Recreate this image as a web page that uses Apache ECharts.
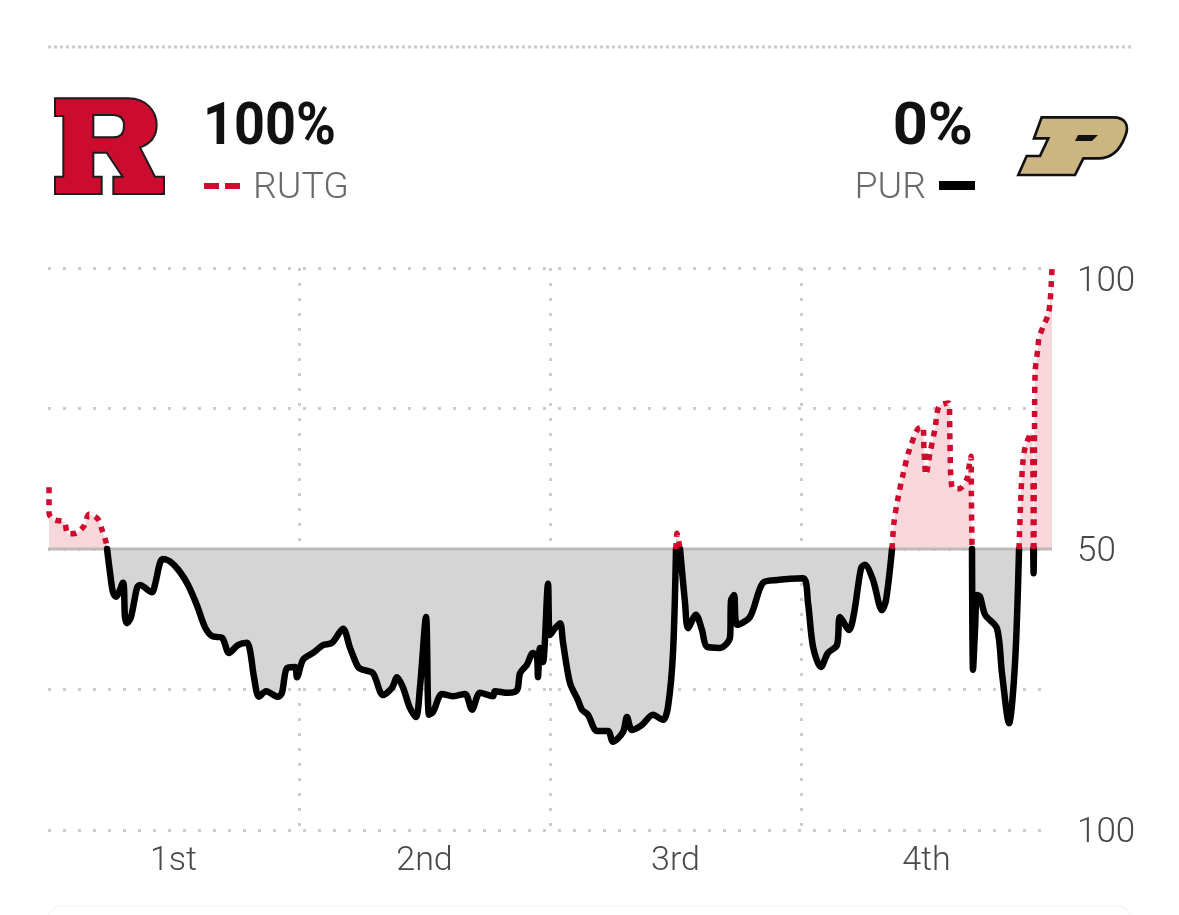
<!DOCTYPE html>
<html lang="en">
<head>
    <meta charset="UTF-8">
    <title>Win probability</title>
    <script src="https://cdn.jsdelivr.net/npm/echarts@6/dist/echarts.min.js"></script>
    <style>
        html, body { margin: 0; padding: 0; background: #fff; }
    </style>
</head>
<body>
    <div id="main" style="width:1179px;height:915px;"></div>
    <script>
    var periodLabels = ['1st', '2nd', '3rd', '4th'];
    var periodCenters = [7.5, 22.5, 37.5, 52.5];
    var yTickLabels = {0: '100', 50: '50', 100: '100'};
    var red = '#cf0a2c';
    var black = '#000000';

    // game clock in elapsed minutes
    var gameMinutes = [
        0.06, 0.06, 0.36, 0.96, 1.20, 1.67, 2.15, 2.45, 2.99, 3.23, 3.47, 3.53,
        3.71, 3.88, 4.06, 4.48, 4.60, 4.72, 4.96, 5.32, 5.50, 6.22, 6.39, 6.69,
        6.87, 7.41, 7.89, 8.37, 8.90, 9.38, 9.80, 10.40, 10.82, 11.35, 11.89, 12.07,
        12.31, 12.61, 13.03, 13.74, 13.98, 14.28, 14.76, 14.88, 15.24, 15.84, 16.43, 16.97,
        17.63, 18.05, 18.53, 18.82, 19.42, 20.02, 20.56, 20.86, 21.21, 21.63, 21.99, 22.23,
        22.59, 22.77, 23.01, 23.55, 24.20, 24.92, 25.34, 25.82, 26.59, 26.71, 27.49, 28.03,
        28.21, 28.62, 28.98, 29.22, 29.28, 29.40, 29.58, 29.88, 30.00, 30.30, 30.60, 30.78,
        31.19, 31.67, 31.91, 32.27, 32.81, 33.47, 33.76, 34.36, 34.60, 34.90, 35.50, 36.15,
        36.75, 37.05, 37.35, 37.53, 37.59, 37.65, 37.77, 38.07, 38.25, 38.72, 39.08, 39.38,
        40.16, 40.76, 40.82, 41.00, 41.18, 41.95, 42.73, 43.57, 45.12, 45.42, 45.72, 46.19,
        46.61, 47.15, 47.33, 47.87, 48.17, 48.59, 48.82, 49.30, 49.84, 50.08, 50.44, 50.56,
        50.80, 51.10, 51.45, 51.99, 52.29, 52.35, 52.47, 52.71, 53.01, 53.25, 53.84, 53.90,
        54.02, 54.44, 54.92, 55.04, 55.16, 55.18, 55.22, 55.28, 55.40, 55.52, 55.70, 56.00,
        56.71, 57.01, 57.43, 57.79, 58.03, 58.15, 58.27, 58.39, 58.68, 58.80, 58.87, 58.88,
        58.90, 58.92, 58.95, 58.99, 59.16, 59.22, 59.46, 59.76, 59.88, 59.97, 60.00
    ];
    // Rutgers win probability, 50 marks a lead change
    var rutgersWinProb = [
        61.0, 56.4, 55.2, 54.8, 52.7, 52.8, 54.1, 56.2, 55.3, 53.4, 51.2, 50,
        45.7, 42.3, 41.5, 44.0, 37.9, 36.8, 37.9, 43.1, 43.6, 42.3, 43.6, 47.5,
        48.2, 47.5, 45.9, 43.6, 40.0, 36.1, 34.5, 34.2, 31.5, 32.9, 33.3, 32.0,
        27.2, 23.7, 24.7, 23.7, 24.4, 28.8, 29.0, 27.2, 30.3, 31.5, 32.9, 33.3,
        35.8, 32.4, 29.0, 28.5, 27.9, 24.0, 25.3, 27.2, 25.4, 21.7, 20.1, 25.4,
        37.9, 20.5, 21.0, 24.2, 23.8, 24.2, 21.4, 24.4, 23.8, 24.7, 24.4, 24.9,
        27.9, 29.4, 31.5, 30.8, 27.2, 32.4, 29.9, 43.8, 34.7, 35.9, 36.8, 33.3,
        26.2, 23.1, 21.4, 20.5, 17.6, 17.6, 15.7, 17.4, 20.1, 17.8, 18.7, 20.5,
        19.6, 21.9, 31.5, 50, 52.8, 52.1, 50, 40.4, 35.9, 38.3, 35.6, 32.6,
        32.4, 34.3, 40.9, 41.8, 36.5, 37.9, 44.0, 44.5, 44.8, 40.4, 32.6, 29.0,
        31.5, 32.9, 37.9, 35.6, 38.6, 46.6, 47.2, 44.5, 39.1, 40.9, 50, 54.8,
        59.1, 63.3, 67.4, 71.4, 71.7, 67.6, 63.2, 67.1, 71.4, 75.4, 76.0, 69.4,
        61.0, 60.7, 62.5, 64.6, 66.5, 60.0, 50, 28.5, 35.6, 41.8, 41.5, 38.3,
        35.9, 27.9, 19.0, 29.7, 50, 60.0, 65.8, 68.0, 70.3, 70.6, 60.0, 50,
        45.7, 50, 67.6, 81.3, 85.8, 87.5, 89.5, 91.6, 93.8, 97.9, 100
    ];

    var rutgersPts = [];
    var purduePts = [];
    gameMinutes.forEach(function (m, i) {
        var v = rutgersWinProb[i];
        rutgersPts.push([m, v >= 50 ? v : null]);
        purduePts.push([m, v <= 50 ? v : null]);
    });

    function areaSeries(name, pts, color) {
        return {
            name: name, type: 'line', data: pts, z: 2, clip: false,
            showSymbol: false, symbol: 'none',
            smooth: 0.3,
            lineStyle: {width: 0},
            areaStyle: {color: color, opacity: 1, origin: 50}
        };
    }
    function lineSeries(name, pts, style) {
        return {
            name: name, type: 'line', data: pts, z: 4, clip: false,
            showSymbol: false, symbol: 'none',
            smooth: 0.3,
            lineStyle: style
        };
    }

    // team logos traced at 3x, placed with a 1/3 scale below
    echarts.graphic.registerShape('rutgersLogo', echarts.graphic.extendPath(
        'M165 205 L385 205 C440 205 470 245 470 285 C470 320 450 342 420 352 L465 440 L492 440 L492 492 L340 492 L340 440 L368 440 L320 368 L280 368 L280 440 L305 440 L305 492 L165 492 L165 440 L190 440 L190 258 L165 258 Z ' +
        'M280 255 L280 322 L340 322 C362 322 372 308 372 288 C372 268 362 255 340 255 Z', {}));
    echarts.graphic.registerShape('purdueLogo', echarts.graphic.extendPath(
        'M725 262 L940 262 C975 262 990 285 975 320 C960 360 935 385 895 385 L850 385 L825 435 L655 435 L680 378 L720 378 L745 325 L702 325 Z', {}));

    var labelFont = {fontFamily: 'Roboto', fontSize: 35, fontWeight: 300, color: '#484848'};

    var option = {
        backgroundColor: '#ffffff',
        animation: false,
        grid: {left: 48, top: 268, width: 1004, height: 562},
        xAxis: {
            type: 'value', min: 0, max: 60, interval: 15,
            axisLine: {show: false},
            axisTick: {show: false},
            axisLabel: {
                customValues: periodCenters,
                formatter: function (v) { return periodLabels[periodCenters.indexOf(v)]; },
                fontFamily: 'Roboto', fontSize: 34, fontWeight: 300, color: '#484848', margin: 14
            },
            splitLine: {
                show: true, showMinLine: false, showMaxLine: false,
                lineStyle: {color: '#cccccc', width: 3, type: [3, 12]}
            }
        },
        yAxis: {
            type: 'value', min: 0, max: 100, interval: 25, position: 'right',
            axisLine: {show: false},
            axisTick: {show: false},
            axisLabel: {
                formatter: function (v) {
                    if (!yTickLabels[v]) { return ''; }
                    return (v === 100 ? '{top|' : '{mid|') + yTickLabels[v] + '}';
                },
                margin: 25,
                rich: {
                    top: Object.assign({padding: [28, 0, 0, 0]}, labelFont),
                    mid: Object.assign({padding: [6, 0, 0, 0]}, labelFont)
                }
            },
            splitLine: {
                show: true,
                lineStyle: {color: '#cccccc', width: 3, type: [3, 12]}
            }
        },
        series: [
            areaSeries('Rutgers area', rutgersPts, '#f7d6dc'),
            areaSeries('Purdue area', purduePts, '#d5d5d5'),
            {
                name: 'Even', type: 'line', z: 3, showSymbol: false, symbol: 'none',
                data: [[0, 50], [60, 50]],
                lineStyle: {color: '#bbbbbb', width: 3}
            },
            lineSeries('PUR', purduePts, {color: black, width: 6.5, cap: 'round', join: 'round'}),
            lineSeries('RUTG', rutgersPts, {color: red, width: 5.5, type: [6, 6]})
        ],
        graphic: [
            {type: 'line', silent: true, shape: {x1: 48, y1: 47, x2: 1131, y2: 47},
             style: {stroke: '#cccccc', lineWidth: 3, lineDash: [3, 3]}},
            {type: 'rutgersLogo', silent: true, x: 0, y: 30, scaleX: 1 / 3, scaleY: 1 / 3,
             style: {fill: '#cc0c2f', stroke: '#1c1c1c', lineWidth: 6}},
            {type: 'purdueLogo', silent: true, x: 800, y: 30, scaleX: 1 / 3, scaleY: 1 / 3,
             style: {fill: '#cbb682', stroke: '#111111', lineWidth: 8}},
            {type: 'polygon', silent: true, shape: {points: [[1078, 135], [1075, 141], [1092, 141], [1098, 135]]},
             style: {fill: '#111111'}},
            {type: 'text', silent: true, x: 203, y: 99, scaleX: 0.9,
             style: {text: '100%', fontFamily: 'Roboto', fontSize: 60, fontWeight: 700, fill: '#111111', textAlign: 'left', textVerticalAlign: 'top'}},
            {type: 'text', silent: true, x: 973, y: 99, scaleX: 1.02,
             style: {text: '0%', fontFamily: 'Roboto', fontSize: 60, fontWeight: 700, fill: '#111111', textAlign: 'right', textVerticalAlign: 'top'}},
            {type: 'rect', silent: true, shape: {x: 204, y: 183, width: 15, height: 6}, style: {fill: red}},
            {type: 'rect', silent: true, shape: {x: 225, y: 183, width: 15, height: 6}, style: {fill: red}},
            {type: 'rect', silent: true, shape: {x: 939, y: 181, width: 36, height: 9}, style: {fill: black}},
            {type: 'text', silent: true, x: 253, y: 170,
             style: {text: 'RUTG', fontFamily: 'Roboto', fontSize: 37.5, fontWeight: 300, fill: '#6a6a6a', textAlign: 'left', textVerticalAlign: 'top'}},
            {type: 'text', silent: true, x: 926, y: 170,
             style: {text: 'PUR', fontFamily: 'Roboto', fontSize: 37.5, fontWeight: 300, fill: '#6a6a6a', textAlign: 'right', textVerticalAlign: 'top'}},
            {type: 'rect', silent: true, shape: {x: 48, y: 906, width: 1083, height: 40, r: 14},
             style: {fill: '#ffffff', stroke: '#f8f8f8', lineWidth: 2}}
        ]
    };

    var myChart = echarts.init(document.getElementById('main'));
    myChart.setOption(option);
    </script>
</body>
</html>
